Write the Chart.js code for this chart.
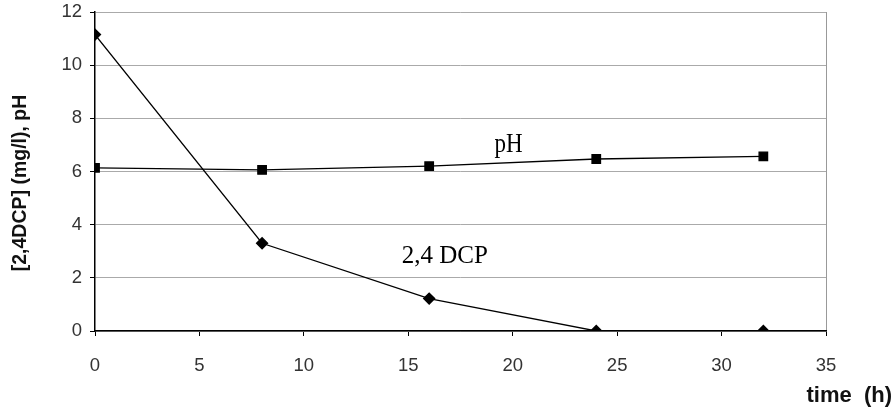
<!DOCTYPE html>
<html>
<head>
<meta charset="utf-8">
<script src="https://cdn.jsdelivr.net/npm/chart.js@4/dist/chart.umd.min.js"></script>
<style>
  html, body { margin: 0; padding: 0; background: #fff; }
  #wrap { width: 894px; height: 412px; }
</style>
</head>
<body>
<div id="wrap"><canvas id="grafica"></canvas></div>
<script>
// datos
var tiempo = [0, 8, 16, 24, 32];
var dcp = [11.15, 3.3, 1.22, 0, 0];
var ph = [6.14, 6.06, 6.2, 6.47, 6.57];
var yTicks = [0, 2, 4, 6, 8, 10, 12];
var xTicks = [0, 5, 10, 15, 20, 25, 30, 35];

function puntos(xs, ys) {
    return xs.map(function (x, i) { return { x: x, y: ys[i] }; });
}

// textos sobre el grafico
var textos = {
    id: 'textos',
    afterDraw: function (chart) {
        var c = chart.ctx;
        var xs = chart.scales.x, ys = chart.scales.y;
        c.save();
        c.fillStyle = '#000';
        c.textAlign = 'center';
        // pH etiqueta
        c.textBaseline = 'alphabetic';
        c.save();
        c.translate(xs.getPixelForValue(19.8), ys.getPixelForValue(6.74));
        c.scale(0.82, 1);
        c.font = '28px "Liberation Serif", "DejaVu Serif", serif';
        c.fillText('pH', 0, 0);
        c.restore();
        // 2,4 DCP etiqueta
        c.font = '25px "Liberation Serif", "DejaVu Serif", serif';
        c.fillText('2,4 DCP', xs.getPixelForValue(16.75), ys.getPixelForValue(2.55));
        // titulos de ejes
        c.textBaseline = 'middle';
        c.fillStyle = '#111';
        c.font = 'bold 22px "Liberation Sans", Arial, sans-serif';
        c.textAlign = 'right';
        c.fillText('time  (h)', 892, 396);
        c.textAlign = 'center';
        c.save();
        c.translate(21, 183);
        c.rotate(-Math.PI / 2);
        c.font = 'bold 19.5px "Liberation Sans", Arial, sans-serif';
        c.fillText('[2,4DCP] (mg/l), pH', 0, 0);
        c.restore();
        c.restore();
    }
};

var fuenteTicks = { family: '"Liberation Sans", Arial, sans-serif', size: 18.5 };

var grafica = new Chart(document.getElementById('grafica'), {
    type: 'scatter',
    data: {
        datasets: [{
            label: '2,4 DCP',
            data: puntos(tiempo, dcp),
            showLine: true,
            borderColor: '#000',
            backgroundColor: '#000',
            borderWidth: 1.3,
            pointStyle: 'rectRot',
            pointRadius: 5.5,
            pointHoverRadius: 5.5
        }, {
            label: 'pH',
            data: puntos(tiempo, ph),
            showLine: true,
            borderColor: '#000',
            backgroundColor: '#000',
            borderWidth: 1.3,
            pointStyle: 'rect',
            pointRadius: 6,
            pointHoverRadius: 6
        }]
    },
    options: {
        responsive: true,
        maintainAspectRatio: false,
        animation: false,
        layout: { padding: { left: 0, right: 68, top: 12, bottom: 0 } },
        plugins: { legend: { display: false }, tooltip: { enabled: false } },
        scales: {
            x: {
                type: 'linear',
                min: 0, max: 35,
                afterBuildTicks: function (s) { s.ticks = xTicks.map(function (v) { return { value: v }; }); },
                afterFit: function (s) { s.height = 81; s.paddingLeft = 0; s.paddingRight = 0; },
                border: { color: '#000', width: 1.5 },
                grid: {
                    color: function (ctx) { return ctx.tick && ctx.tick.value === 35 ? '#999' : 'rgba(0,0,0,0)'; },
                    tickColor: '#000',
                    tickLength: 5,
                    drawOnChartArea: true
                },
                ticks: { color: '#333', font: fuenteTicks, padding: 19, maxRotation: 0 }
            },
            y: {
                min: 0, max: 12,
                afterBuildTicks: function (s) { s.ticks = yTicks.map(function (v) { return { value: v }; }); },
                afterFit: function (s) { s.width = 95; s.paddingTop = 0; s.paddingBottom = 0; },
                border: { color: '#000', width: 1.5 },
                grid: { color: '#aaa', tickColor: '#000', tickLength: 5 },
                ticks: { color: '#333', font: fuenteTicks, padding: 8 }
            }
        }
    },
    plugins: [textos]
});
</script>
</body>
</html>
